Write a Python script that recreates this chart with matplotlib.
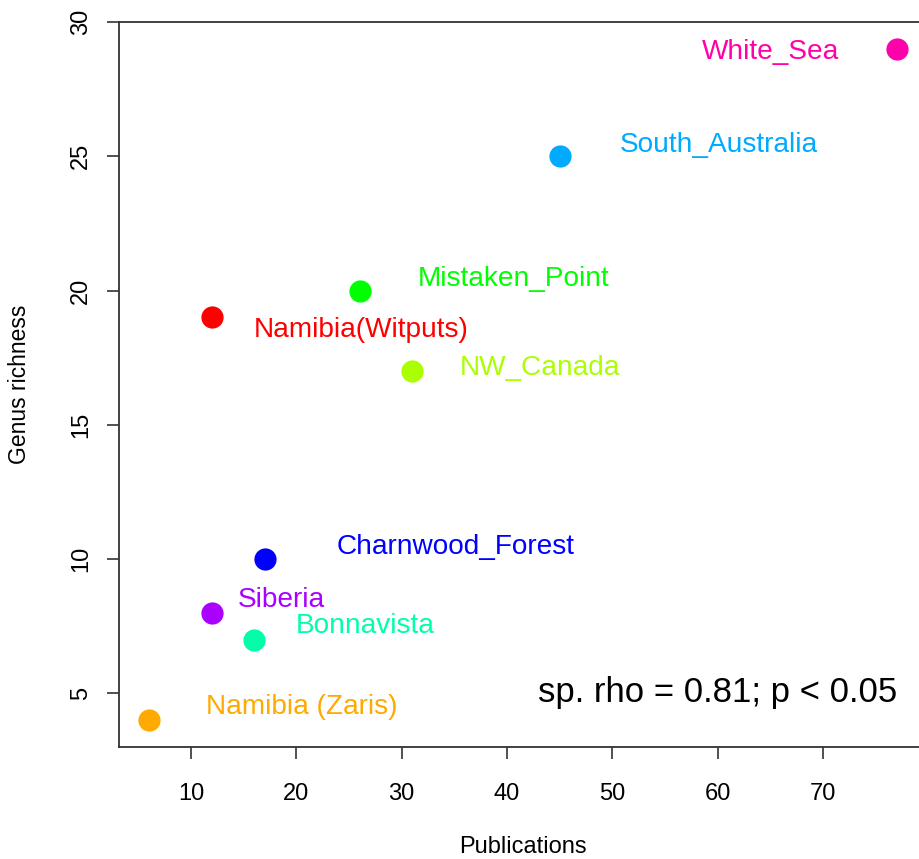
import matplotlib
matplotlib.use("Agg")
import matplotlib.pyplot as plt

plt.rcParams['font.family'] = ['Liberation Sans', 'DejaVu Sans']

sites = ["Namibia(Witputs)", "Namibia (Zaris)", "NW_Canada", "Mistaken_Point",
         "Bonnavista", "South_Australia", "Charnwood_Forest", "Siberia", "White_Sea"]
publications = [12, 6, 31, 26, 16, 45, 17, 12, 77]
genus_richness = [19, 4, 17, 20, 7, 25, 10, 8, 29]
colors = ["#FF0000", "#FFAA00", "#AAFF00", "#00FF00", "#00FFAA",
          "#00AAFF", "#0000FF", "#AA00FF", "#FF00AA"]
label_x = [26.2, 20.5, 43.1, 40.6, 26.5, 60.1, 35.15, 18.6, 65.0]
label_y = [18.28, 4.22, 16.86, 20.17, 7.23, 25.15, 10.2, 8.21, 28.64]
stats_text = "sp. rho = 0.81; p < 0.05"
stats_pos = (60.0, 4.67)
x_ticks = [10, 20, 30, 40, 50, 60, 70]
y_ticks = [5, 10, 15, 20, 25, 30]

W, H = 919, 859
fig = plt.figure(figsize=(W / 100, H / 100), dpi=100)
left, right, top, bottom = 119, 926.5, 22, 747
ax = fig.add_axes([left / W, (H - bottom) / H, (right - left) / W, (bottom - top) / H])

for x, y, c in zip(publications, genus_richness, colors):
    ax.plot(x, y, 'o', color=c, markersize=16, markeredgewidth=0)

for name, lx, ly, c in zip(sites, label_x, label_y, colors):
    ax.text(lx, ly, name, color=c, fontsize=20.2, ha='center', va='baseline')

ax.text(stats_pos[0], stats_pos[1], stats_text, color='black', fontsize=25,
        ha='center', va='baseline')

ax.set_xlim(3.16, 79.84)
ax.set_ylim(3, 30)
ax.set_xticks(x_ticks)
ax.set_yticks(y_ticks)
ax.tick_params(axis='both', length=8.6, width=1.2, color='#333333', labelsize=17)
ax.tick_params(axis='x', pad=17)
ax.tick_params(axis='y', pad=11)
for lab in ax.get_yticklabels():
    lab.set_rotation(90)
    lab.set_va('center')
for s in ax.spines.values():
    s.set_color('#333333')
    s.set_linewidth(1.3)

ax.set_xlabel("Publications", fontsize=17, va='center')
ax.xaxis.set_label_coords(0.5, (bottom - 847) / (bottom - top))
ax.set_ylabel("Genus richness", fontsize=16.5, va='center')
ax.yaxis.set_label_coords((20 - left) / (right - left), 0.5)

fig.savefig("out.png", dpi=100)
